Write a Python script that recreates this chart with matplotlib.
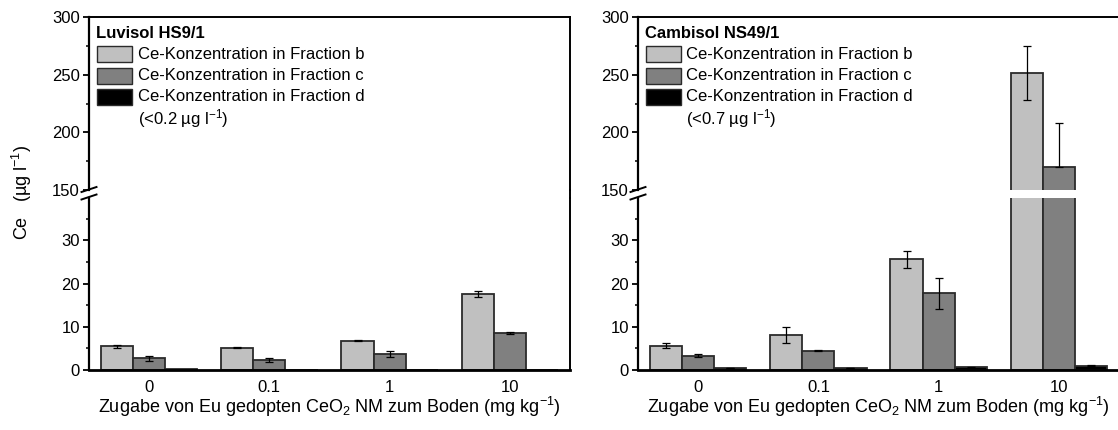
import matplotlib
matplotlib.use("Agg")
import matplotlib.pyplot as plt
from matplotlib.patches import Rectangle
from matplotlib.lines import Line2D
from matplotlib.ticker import MultipleLocator
import numpy as np

plt.rcParams['font.family'] = ['Liberation Sans', 'DejaVu Sans']
plt.rcParams['mathtext.fontset'] = 'custom'
plt.rcParams['mathtext.rm'] = 'Liberation Sans'
plt.rcParams['mathtext.it'] = 'Liberation Sans:italic'
plt.rcParams['mathtext.bf'] = 'Liberation Sans:bold'

# ---- data -------------------------------------------------------------
doses = ['0', '0.1', '1', '10']

luv_b = [5.5, 5.2, 6.8, 17.6]
luv_b_err = [0.3, 0.1, 0.2, 0.6]
luv_c = [2.7, 2.3, 3.8, 8.6]
luv_c_err = [0.6, 0.5, 0.7, 0.3]
luv_d = [0.15, 0.08, 0.05, 0.05]

cam_b = [5.6, 8.1, 25.6, 251.5]
cam_b_err = [0.6, 1.8, 1.9, 23.5]
cam_c = [3.3, 4.5, 17.8, 170.0]
cam_c_err_low = [0.4, 0.2, 3.6, 0.0]
cam_c_err_high = [0.4, 0.2, 3.6, 38.0]
cam_d = [0.5, 0.5, 0.6, 1.0]
cam_d_err = [0.05, 0.05, 0.1, 0.1]

panel_titles = ['Luvisol HS9/1', 'Cambisol NS49/1']
detection_notes = ['(<0.2 µg l$^{-1}$)', '(<0.7 µg l$^{-1}$)']
series_labels = ['Ce-Konzentration in Fraction b',
                 'Ce-Konzentration in Fraction c',
                 'Ce-Konzentration in Fraction d']
xlabel = 'Zugabe von Eu gedopten CeO$_2$ NM zum Boden (mg kg$^{-1}$)'
ylabel = 'Ce   (µg l$^{-1}$)'

colors = ['#c0c0c0', '#808080', '#000000']
edge = '#2b2b2b'

# ---- layout (pixel geometry of a 1118 x 430 canvas) --------------------
W, H = 1118, 430
fig = plt.figure(figsize=(W / 100, H / 100), dpi=100)


def fx(px):
    return px / W


def fy(py):
    return 1 - py / H


top_px, upper_bot_px, lower_top_px, zero_px = 17, 190, 198, 370
panel_left = [89, 638]
panel_w = 481
lower_max = 39.8

FS_TICK = 12
FS_LEG = 12
FS_LAB = 13

panels = [
    dict(b=luv_b, be=(luv_b_err, luv_b_err), c=luv_c, ce=(luv_c_err, luv_c_err),
         d=luv_d, de=None),
    dict(b=cam_b, be=(cam_b_err, cam_b_err), c=cam_c, ce=(cam_c_err_low, cam_c_err_high),
         d=cam_d, de=(cam_d_err, cam_d_err)),
]

x = np.arange(len(doses))
bw = 0.267

for i, p in enumerate(panels):
    L = panel_left[i]
    ax_hi = fig.add_axes([fx(L), fy(upper_bot_px), panel_w / W, (upper_bot_px - top_px) / H])
    ax_lo = fig.add_axes([fx(L), fy(zero_px), panel_w / W, (zero_px - lower_top_px) / H])

    for ax in (ax_hi, ax_lo):
        for k, (vals, err) in enumerate([(p['b'], p['be']), (p['c'], p['ce']), (p['d'], p['de'])]):
            ax.bar(x + (k - 1) * bw, vals, width=bw, color=colors[k], edgecolor=edge,
                   linewidth=1.3, zorder=2)
            if err is not None:
                ax.errorbar(x + (k - 1) * bw, vals, yerr=np.array(err), fmt='none',
                            ecolor='black', elinewidth=0.9, capsize=2.6, capthick=0.9,
                            zorder=3)
        ax.set_xlim(-0.5, len(doses) - 0.5)
        ax.spines['left'].set_linewidth(1.6)
        ax.spines['right'].set_linewidth(1.4)
        ax.tick_params(axis='y', which='major', direction='out', length=4, width=1.3,
                       labelsize=FS_TICK, pad=2.5)
        ax.tick_params(axis='y', which='minor', direction='out', length=2.2, width=1.1)
        ax.tick_params(axis='y', which='both', right=False)

    ax_hi.set_ylim(150, 300)
    ax_hi.yaxis.set_major_locator(MultipleLocator(50))
    ax_hi.yaxis.set_minor_locator(MultipleLocator(25))
    ax_hi.spines['bottom'].set_visible(False)
    ax_hi.spines['top'].set_linewidth(1.4)
    ax_hi.tick_params(axis='x', bottom=False, labelbottom=False)

    ax_lo.set_ylim(0, lower_max)
    ax_lo.yaxis.set_major_locator(MultipleLocator(10))
    ax_lo.yaxis.set_minor_locator(MultipleLocator(5))
    ax_lo.spines['top'].set_visible(False)
    ax_lo.spines['bottom'].set_linewidth(2.0)
    ax_lo.set_xticks(x)
    ax_lo.set_xticklabels(doses)
    ax_lo.tick_params(axis='x', length=0, labelsize=FS_TICK, pad=7.5)

    # continuous right frame across the break
    fig.add_artist(Line2D([fx(L + panel_w), fx(L + panel_w)],
                          [fy(upper_bot_px), fy(lower_top_px)],
                          color='black', lw=1.4, transform=fig.transFigure))
    # break marks on the left axis
    for yc in (189.5, 197.0):
        fig.add_artist(Line2D([fx(L - 7.5), fx(L + 7.5)], [fy(yc + 2.5), fy(yc - 2.5)],
                              color='black', lw=1.4, transform=fig.transFigure))

    # x-axis label
    fig.text(fx(L + panel_w / 2), fy(407), xlabel, ha='center', va='center', fontsize=FS_LAB)

    # legend block in the upper part
    fig.text(fx(L + 7), fy(33.5), panel_titles[i], ha='left', va='center',
             fontsize=12, fontweight='bold')
    for k, lab in enumerate(series_labels):
        yc = 54.3 + k * 21.3
        fig.add_artist(Rectangle((fx(L + 7.5), fy(yc + 8)), 35.5 / W, 16 / H,
                                 facecolor=colors[k], edgecolor=edge, linewidth=1.0,
                                 transform=fig.transFigure))
        fig.text(fx(L + 48.5), fy(yc), lab, ha='left', va='center', fontsize=FS_LEG)
    fig.text(fx(L + 48.5), fy(119), detection_notes[i], ha='left', va='center',
             fontsize=FS_LEG)

fig.text(fx(22), fy(192), ylabel, rotation=90, ha='center', va='center', fontsize=13)

fig.savefig('out.png', dpi=100)
